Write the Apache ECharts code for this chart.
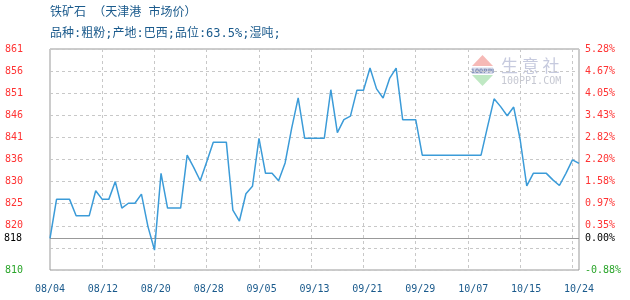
<!DOCTYPE html>
<html>
<head>
<meta charset="utf-8">
<script src="https://cdn.jsdelivr.net/npm/echarts@6/dist/echarts.min.js"></script>
<style>html,body{margin:0;padding:0;background:#fff}#c{width:630px;height:300px}</style>
</head>
<body>
<div id="c"></div>
<script>
const titleText = '铁矿石 （天津港 市场价）';
const subText = '品种:粗粉;产地:巴西;品位:63.5%;湿吨;';
const dates = [
 '08/04','08/05','08/06','08/07','08/08','08/09','08/10','08/11','08/12','08/13','08/14','08/15','08/16','08/17','08/18','08/19','08/20','08/21','08/22','08/23','08/24','08/25','08/26','08/27','08/28','08/29','08/30','08/31',
 '09/01','09/02','09/03','09/04','09/05','09/06','09/07','09/08','09/09','09/10','09/11','09/12','09/13','09/14','09/15','09/16','09/17','09/18','09/19','09/20','09/21','09/22','09/23','09/24','09/25','09/26','09/27','09/28','09/29','09/30',
 '10/01','10/02','10/03','10/04','10/05','10/06','10/07','10/08','10/09','10/10','10/11','10/12','10/13','10/14','10/15','10/16','10/17','10/18','10/19','10/20','10/21','10/22','10/23','10/24'
];
const prices = [
 817.3, 826.3, 826.3, 826.3, 822.5, 822.5, 822.5, 828.3, 826.3, 826.3,
 830.4, 824.3, 825.4, 825.4, 827.5, 820.0, 814.6, 832.3, 824.3, 824.3,
 824.3, 836.5, 833.7, 830.6, 835.0, 839.5, 839.5, 839.5, 823.8, 821.3,
 827.6, 829.3, 840.4, 832.3, 832.3, 830.6, 834.7, 842.7, 849.7, 840.4,
 840.4, 840.4, 840.4, 851.6, 841.7, 844.7, 845.5, 851.5, 851.5, 856.6,
 851.8, 849.7, 854.2, 856.6, 844.7, 844.7, 844.7, 836.5, 836.5, 836.5,
 836.5, 836.5, 836.5, 836.5, 836.5, 836.5, 836.5, 843.1, 849.5, 847.7,
 845.6, 847.6, 840.0, 829.4, 832.3, 832.3, 832.3, 830.8, 829.5, 832.3,
 835.4, 834.6
];
const xLabels = ['08/04','08/12','08/20','08/28','09/05','09/13','09/21','09/29','10/07','10/15','10/24'];
const leftLabels = ['810','','820','825','830','836','841','846','851','856','861'];
const rightLabels = ['-0.88%','','0.35%','0.97%','1.58%','2.20%','2.82%','3.43%','4.05%','4.67%','5.28%'];
const yMin = 810, yMax = 861, yStep = 5.1;
const baseValue = 817.3;
const baseLeftLabel = '818';
const baseRightLabel = '0.00%';

const RED = '#ff3333', GREEN = '#2aa52a', BLUE_TXT = '#1a5a8c';
const NUM_FONT = 'DejaVu Sans Mono';
const TITLE_FONT = '"DejaVu Sans Mono", "Noto Sans CJK SC"';
function idxOf(v){ return Math.round((v - yMin) / yStep); }

const chart = echarts.init(document.getElementById('c'), null, {renderer:'canvas'});
chart.setOption({
  animation: false,
  backgroundColor: '#fff',
  title: [
    {text: titleText, left: 50, top: 7, padding: 0,
     textStyle: {fontFamily: TITLE_FONT, fontSize: 12, fontWeight: 'normal', color: BLUE_TXT}},
    {text: subText, left: 50, top: 28, padding: 0,
     textStyle: {fontFamily: TITLE_FONT, fontSize: 12, fontWeight: 'normal', color: BLUE_TXT}}
  ],
  grid: {left: 50, right: 51, top: 49, bottom: 30, show: true, borderColor: '#999', borderWidth: 1, backgroundColor: 'transparent'},
  xAxis: [
    {type: 'category', data: dates, boundaryGap: false,
     axisLine: {show: false}, axisTick: {show: false}, axisLabel: {show: false},
     splitLine: {show: true, interval: function(i){ return i > 0 && i % 8 === 0; },
                 lineStyle: {color: '#c8c8c8', type: [3, 3], width: 1}}},
    {type: 'value', min: 0, max: 10, interval: 1, position: 'bottom',
     axisLine: {show: false}, axisTick: {show: false}, splitLine: {show: false},
     axisLabel: {show: true, showMinLabel: true, showMaxLabel: true, margin: 14,
                 fontFamily: NUM_FONT, fontSize: 10, color: BLUE_TXT,
                 formatter: function(v){ return xLabels[Math.round(v)] || ''; }}}
  ],
  yAxis: [
    {type: 'value', min: yMin, max: yMax, interval: yStep, position: 'left',
     axisLine: {show: false}, axisTick: {show: false},
     splitLine: {show: true, lineStyle: {color: '#c8c8c8', type: [3, 3], width: 1}},
     axisLabel: {show: true, showMinLabel: true, showMaxLabel: true, margin: 45, align: 'left',
                 fontFamily: NUM_FONT, fontSize: 10,
                 color: function(v){ return idxOf(v) === 0 ? GREEN : RED; },
                 formatter: function(v){ return leftLabels[idxOf(v)] || ''; }}},
    {type: 'value', min: yMin, max: yMax, interval: yStep, position: 'right',
     axisLine: {show: false}, axisTick: {show: false}, splitLine: {show: false},
     axisLabel: {show: true, showMinLabel: true, showMaxLabel: true, margin: 6, align: 'left',
                 fontFamily: NUM_FONT, fontSize: 10,
                 color: function(v){ return idxOf(v) === 0 ? GREEN : RED; },
                 formatter: function(v){ return rightLabels[idxOf(v)] || ''; }}}
  ],
  graphic: [
    {type: 'polygon', shape: {points: [[472,66],[493,66],[482.5,55]]}, style: {fill: '#f6b9b6'}, silent: true},
    {type: 'rect', shape: {x: 472, y: 67.5, width: 21, height: 6.5}, style: {fill: '#d5d9ea'}, silent: true},
    {type: 'text', style: {text: '100PPI', x: 482.5, y: 71, align: 'center', verticalAlign: 'middle',
      font: 'bold 6px DejaVu Sans', fill: '#7f8db5'}, silent: true},
    {type: 'polygon', shape: {points: [[472,75],[493,75],[482.5,86]]}, style: {fill: '#bfe8c3'}, silent: true},
    {type: 'text', style: {text: '生 意 社', x: 501, y: 66, align: 'left', verticalAlign: 'middle',
      font: '17px "Noto Sans CJK SC"', fill: '#c6cade'}, silent: true},
    {type: 'text', style: {text: '100PPI.COM', x: 501, y: 81, align: 'left', verticalAlign: 'middle',
      font: '10px "DejaVu Sans Mono"', fill: '#c6c8d2'}, silent: true}
  ],
  series: [{
    type: 'line', xAxisIndex: 0, yAxisIndex: 0, data: prices,
    showSymbol: false, smooth: false, z: 5,
    lineStyle: {color: '#3b9bd8', width: 1.5},
    markLine: {
      silent: true, symbol: 'none', animation: false,
      lineStyle: {color: '#999', type: 'solid', width: 1},
      data: [
        {yAxis: baseValue, label: {show: true, position: 'start', distance: 28, formatter: baseLeftLabel,
          color: '#000', fontFamily: NUM_FONT, fontSize: 10}},
        {yAxis: baseValue, label: {show: true, position: 'end', distance: 6, formatter: baseRightLabel,
          color: '#000', fontFamily: NUM_FONT, fontSize: 10}}
      ]
    }
  }]
});
</script>
</body>
</html>
